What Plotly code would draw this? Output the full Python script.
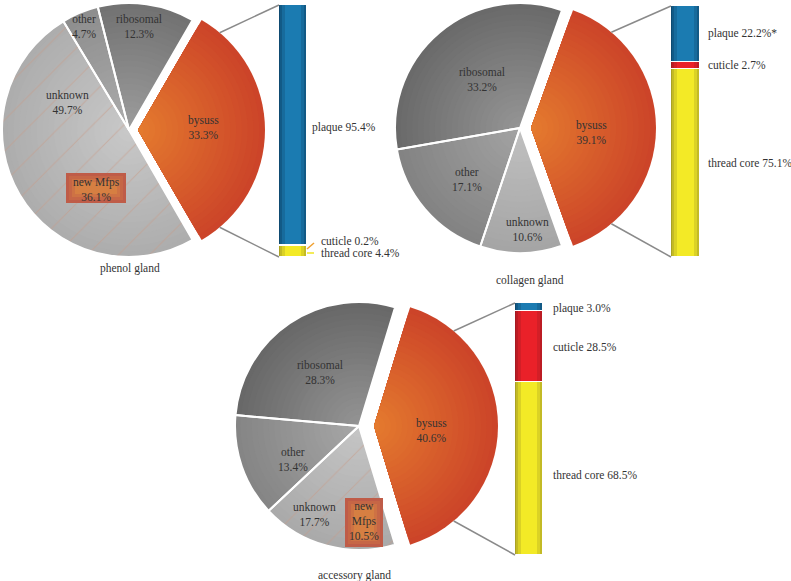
import math
import plotly.graph_objects as go

W, H = 791, 581

# ---------------- data ----------------
glands = ["phenol gland", "collagen gland", "accessory gland"]
pie_labels = ["bysuss", "ribosomal", "other", "unknown"]
phenol_vals = [33.3, 12.3, 4.7, 49.7]
collagen_vals = [39.1, 33.2, 17.1, 10.6]
accessory_vals = [40.6, 28.3, 13.4, 17.7]
new_mfps_vals = [36.1, None, 10.5]          # share of "new Mfps" (inside unknown)

bar_labels = ["thread core", "cuticle", "plaque"]
phenol_bar = [4.4, 0.2, 95.4]
collagen_bar = [75.1, 2.7, 22.2]
accessory_bar = [68.5, 28.5, 3.0]
plaque_suffix = ["", "*", ""]

pie_values = [phenol_vals, collagen_vals, accessory_vals]
bar_values = [phenol_bar, collagen_bar, accessory_bar]

# ---------------- styling / layout (pixels) ----------------
FONT = "Liberation Serif"
TXT = "#333333"
FS = 11.5
BYSSUS_GRAD = ("#cc4429", "#e47a2e")     # (rim, centre)
# (edge, centre) shades for thread core / cuticle / plaque
BAR_GRAD = [("#aba224", "#f3ea26"), ("#a51a22", "#ea2129"), ("#0e4a71", "#1b7bb1")]
BAR_SHADE_WIDTHS = [1.0, 0.9, 0.78, 0.6]
# (rim, centre) shades for ribosomal / other / unknown
SLICE_GRAD = [
    [("#727272", "#9c9c9c"), ("#8e8e8e", "#acacac"), ("#adadad", "#c8c8c8")],
    [("#6a6a6a", "#949494"), ("#838383", "#a2a2a2"), ("#a5a5a5", "#c0c0c0")],
    [("#686868", "#939393"), ("#858585", "#a6a6a6"), ("#aaaaaa", "#c5c5c5")],
]
N_LAYERS = 22
TRANSP = "rgba(0,0,0,0)"
# pie centre, radius, explode distance
PIE_GEOM = [(129, 130, 127, 9), (520, 128, 125, 11), (359, 426, 124, 15)]
# bar box: x0, x1, ytop, ybot
BAR_GEOM = [(279, 307, 5, 257), (671, 700, 6, 257), (515, 543, 303, 555)]

# label positions (pixels)
SLICE_LABEL_POS = [
    {"ribosomal": (139, 27), "other": (84, 27), "unknown": (67, 102), "bysuss": (203, 127)},
    {"ribosomal": (482, 79), "other": (467, 180), "unknown": (527, 230), "bysuss": (591, 132)},
    {"ribosomal": (320, 372), "other": (293, 460), "unknown": (314, 514), "bysuss": (431, 430)},
]
TITLE_POS = [(130, 268), (530, 280), (354, 575)]
NEW_BOX = [(66, 173, 126, 203), None, (345, 498, 383, 547)]
NEW_TXT = [("new Mfps<br>{v}%", (96, 189)), None, ("new<br>Mfps<br>{v}%", (364, 521))]
BAR_LABEL_POS = [
    [(319, 253), (319, 241), (310, 127)],
    [(706, 163), (706, 65), (706, 33)],
    [(551, 475), (551, 347), (551, 308)],
]


def px(x, y):
    return x / W, 1 - y / H


def mix(c1, c2, t):
    a = [int(c1[i:i + 2], 16) for i in (1, 3, 5)]
    b = [int(c2[i:i + 2], 16) for i in (1, 3, 5)]
    return "#" + "".join(f"{round(a[i] + (b[i] - a[i]) * t):02x}" for i in range(3))


fig = go.Figure()
annotations = []
shapes = []
layout_axes = {}


def ann(text, x, y, anchor="center"):
    ax, ay = px(x, y)
    annotations.append(dict(
        text=text, x=ax, y=ay, xref="paper", yref="paper", showarrow=False,
        xanchor=anchor, yanchor="middle", align="center",
        font=dict(family=FONT, size=FS, color=TXT),
    ))


n_shade = len(BAR_SHADE_WIDTHS)
axis_kw = dict(visible=False, fixedrange=True)

for g in range(3):
    vals = pie_values[g]
    cx, cy, r, pull = PIE_GEOM[g]
    rot = 90 - 1.8 * vals[0]
    has_new = new_mfps_vals[g] is not None

    def dom(shift, rr):
        x0, y0 = px(cx - rr + shift, cy + rr)
        x1, y1 = px(cx + rr + shift, cy - rr)
        return dict(x=[x0, x1], y=[y0, y1])

    common = dict(labels=pie_labels, values=vals, sort=False,
                  direction="counterclockwise", rotation=rot,
                  textinfo="none", showlegend=False)

    # shaded layers (outer dark -> inner light)
    for k in range(N_LAYERS):
        f = 1 - k / N_LAYERS
        t = k / (N_LAYERS - 1)
        rr = r * f
        grays = [mix(o, i, t) for (o, i) in SLICE_GRAD[g]]
        fig.add_trace(go.Pie(
            **common, domain=dom(0, rr), hoverinfo="skip",
            marker=dict(colors=[TRANSP] + grays, line=dict(width=0)),
        ))
        fig.add_trace(go.Pie(
            **common, domain=dom(pull, rr), hoverinfo="skip",
            marker=dict(colors=[mix(*BYSSUS_GRAD, t)] + [TRANSP] * 3,
                        line=dict(width=0)),
        ))

    # separators + faint hatching of the "new Mfps" share
    pat_shapes = ["", "", "", "/" if has_new else ""]
    fig.add_trace(go.Pie(
        **common, domain=dom(0, r), hoverinfo="label+percent",
        marker=dict(
            colors=[TRANSP] * 4,
            line=dict(color="white", width=[0, 2, 2, 2]),
            pattern=dict(shape=pat_shapes, fgcolor="#c89a86", fgopacity=0.5,
                         bgcolor=[TRANSP] * 4, size=22, solidity=0.05),
        ),
    ))

    # slice labels
    for lab, v in zip(pie_labels, vals):
        x, y = SLICE_LABEL_POS[g][lab]
        ann(f"{lab}<br>{v}%", x, y)
    ann(glands[g], *TITLE_POS[g])

    if has_new:
        bx0, by0, bx1, by1 = NEW_BOX[g]
        for inset, col in ((0, "#bf5c48"), (3, "#c66646"), (6, "#ce7244"), (9, "#d67f42")):
            p0 = px(bx0 + inset, by1 - inset)
            p1 = px(bx1 - inset, by0 + inset)
            shapes.append(dict(type="rect", xref="paper", yref="paper",
                               x0=p0[0], y0=p0[1], x1=p1[0], y1=p1[1],
                               fillcolor=col, line=dict(width=0), layer="above"))
        t_, (tx, ty) = NEW_TXT[g]
        ann(t_.format(v=new_mfps_vals[g]), tx, ty)

    # stacked bar, drawn as shaded layers on overlaid axes
    bx0, bx1, byt, byb = BAR_GEOM[g]
    xa = "x" if g == 0 else f"x{g + 1}"
    ya = "y" if g == 0 else f"y{g + 1}"
    x0p, _ = px(bx0, 0)
    x1p, _ = px(bx1, 0)
    _, y0p = px(0, byb)
    _, y1p = px(0, byt)
    layout_axes["xaxis" if g == 0 else f"xaxis{g + 1}"] = dict(
        domain=[x0p, x1p], range=[-0.5, 0.5], anchor=ya, **axis_kw)
    layout_axes["yaxis" if g == 0 else f"yaxis{g + 1}"] = dict(
        domain=[y0p, y1p], range=[0, 100], anchor=xa, **axis_kw)

    for s in range(n_shade + 1):
        if s == 0:
            xs = xa
        else:
            idx = 4 + g * n_shade + (s - 1)
            xs = f"x{idx}"
            layout_axes[f"xaxis{idx}"] = dict(overlaying=xa, range=[-0.5, 0.5],
                                               anchor=ya, **axis_kw)
        for k, (bl, bv) in enumerate(zip(bar_labels, bar_values[g])):
            if s < n_shade:
                tt = s / (n_shade - 1)
                mk = dict(color=mix(*BAR_GRAD[k], tt), line=dict(width=0))
                w = BAR_SHADE_WIDTHS[s]
            else:   # white separators on top
                mk = dict(color=TRANSP, line=dict(color="white", width=1))
                w = 1.0
            fig.add_trace(go.Bar(
                x=[glands[g]], y=[bv], name=bl, xaxis=xs, yaxis=ya, width=w,
                marker=mk, showlegend=False,
                hovertemplate=f"{bl} {bv}%<extra></extra>",
            ))

    for k, (bl, bv) in enumerate(zip(bar_labels, bar_values[g])):
        lx, ly = BAR_LABEL_POS[g][k]
        suffix = plaque_suffix[g] if bl == "plaque" else ""
        ann(f"{bl} {bv}%{suffix}", lx, ly, anchor="left")

    # connector lines from exploded slice to bar
    ang = math.radians(50)
    sx = cx + pull + r * math.cos(ang)
    for sgn, by in ((1, byt), (-1, byb)):
        sy = cy - sgn * r * math.sin(ang)
        a = px(sx, sy)
        b = px(bx0, by)
        shapes.append(dict(type="line", xref="paper", yref="paper",
                           x0=a[0], y0=a[1], x1=b[0], y1=b[1],
                           line=dict(color="#8a8a8a", width=1.5)))

# small leader lines for the thin phenol segments
for (x0, y0, x1, y1, c) in [(307, 249, 314, 243, "#f0a030"), (307, 253, 314, 253, "#efe422")]:
    a = px(x0, y0)
    b = px(x1, y1)
    shapes.append(dict(type="line", xref="paper", yref="paper",
                       x0=a[0], y0=a[1], x1=b[0], y1=b[1], line=dict(color=c, width=1.5)))

fig.update_layout(
    width=W, height=H, autosize=False,
    margin=dict(l=0, r=0, t=0, b=0),
    paper_bgcolor="white", plot_bgcolor="white",
    barmode="stack", bargap=0,
    annotations=annotations, shapes=shapes,
    font=dict(family=FONT, color=TXT),
    **layout_axes,
)

fig.write_html(
    "out.html",
    config={"displayModeBar": False},
    post_script="document.body.style.margin='0';document.body.style.overflow='hidden';",
)
